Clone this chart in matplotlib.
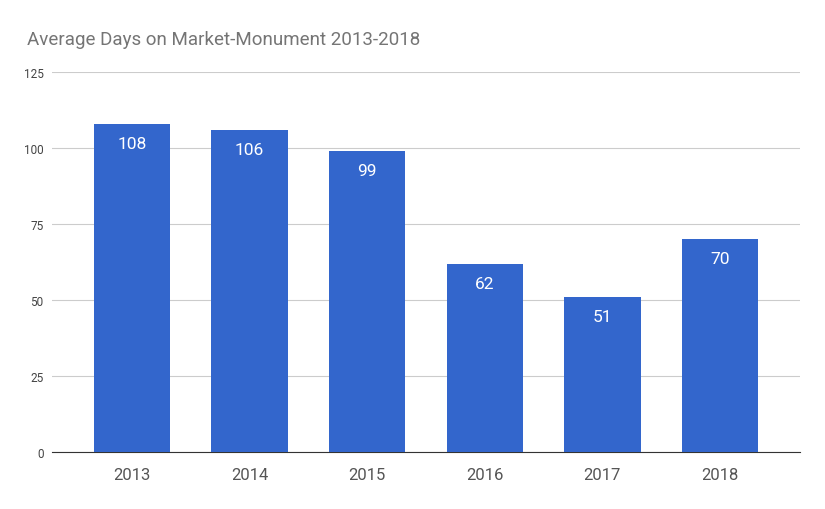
import matplotlib
matplotlib.use('Agg')
import matplotlib.pyplot as plt

plt.rcParams['font.family'] = ['Roboto', 'DejaVu Sans']

years = ['2013', '2014', '2015', '2016', '2017', '2018']
days = [108, 106, 99, 62, 51, 70]
yticks = [0, 25, 50, 75, 100, 125]

fig = plt.figure(figsize=(8.25, 5.1), dpi=100)
ax = fig.add_axes([52 / 825, 1 - 453 / 510, 748 / 825, 380 / 510])

x = list(range(len(years)))
ax.bar(x, days, width=0.65, color='#3366cc', zorder=3)
for xi, v in zip(x, days):
    ax.text(xi, v - 4, str(v), ha='center', va='top', color='white', fontsize=12.5, zorder=4)

ax.set_xlim(-0.68, 5.68)
ax.set_ylim(0, 125)
ax.set_yticks(yticks)
ax.set_xticks(x)
ax.set_xticklabels(years)
ax.grid(axis='y', color='#cccccc', linewidth=0.8, zorder=0)
for s in ['top', 'right', 'left']:
    ax.spines[s].set_visible(False)
ax.spines['bottom'].set_color('#333333')
ax.tick_params(axis='y', length=0, labelsize=8.5, labelcolor='#444444', pad=6)
ax.tick_params(axis='x', length=0, labelsize=12, labelcolor='#555555', pad=11)

fig.text(27 / 825, 1 - 40 / 510, 'Average Days on Market-Monument 2013-2018',
         fontsize=13.5, color='#757575', va='center', ha='left')

fig.savefig('out.png', dpi=100)
